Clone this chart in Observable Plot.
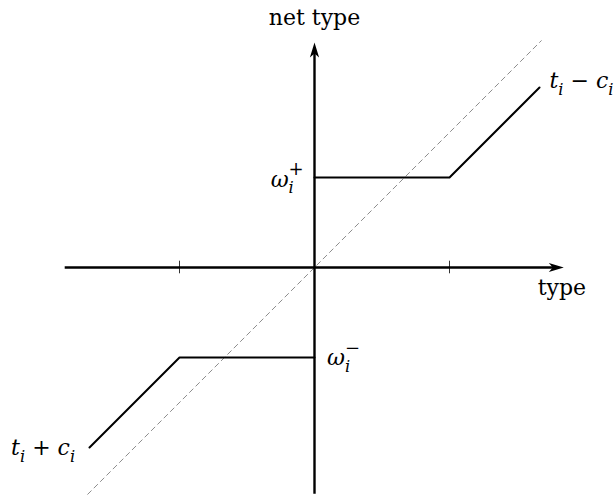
<!DOCTYPE html>
<html>
<head>
<meta charset="utf-8">
<script src="https://cdn.jsdelivr.net/npm/d3@7"></script>
<script src="https://cdn.jsdelivr.net/npm/@observablehq/plot@0.6"></script>
<style>
  html, body { margin: 0; padding: 0; background: #fff; }
  #chart svg text { white-space: pre; }
</style>
</head>
<body>
<div id="chart"></div>
<script>
// ---------- data (in "type" units; ticks at ±1.5, ω± = ±1) ----------
const typeTicks = [-1.5, 1.5];
const upperType = [0, 1.5, 2.5];
const upperNet  = [1, 1, 2];
const lowerType = [-2.5, -1.5, 0];
const lowerNet  = [-2, -1, -1];
const diagonalEnds = [-2.52, 2.52];
const xAxisEnds = [-2.77, 2.77];
const yAxisEnds = [-2.52, 2.5];
const labelTexts = ["net type", "type", "t_i − c_i", "t_i + c_i", "ω_i^+", "ω_i^−"];
const labelX = [0, 2.48, 2.61, -2.66, -0.12, 0.14];
const labelY = [2.70, -0.31, 1.99, -2.085, 0.90, -1.086];

// ---------- layout ----------
const W = 616, H = 497;
const unit = 90;              // px per unit
const originPx = [314, 267];  // pixel position of (0,0)
const fs = 22;
const fontFamily = "'DejaVu Serif', serif";
const anchors = ["middle", "start", "start", "end", "end", "start"];
const headBack = 10 / unit;   // axis line stops inside arrowhead

const upper = upperType.map((x, i) => ({x, y: upperNet[i]}));
const lower = lowerType.map((x, i) => ({x, y: lowerNet[i]}));
const diagonal = diagonalEnds.map(v => ({x: v, y: v}));
const labels = labelTexts.map((t, i) => ({t, x: labelX[i], y: labelY[i], a: anchors[i]}));
const heads = [
  {x: xAxisEnds[1], y: 0, r: 90},
  {x: 0, y: yAxisEnds[1], r: 0}
];

// stealth arrowhead, tip at origin, pointing up
const stealth = {
  draw(ctx) {
    ctx.moveTo(0, 0);
    ctx.lineTo(4.6, 15);
    ctx.lineTo(0, 11);
    ctx.lineTo(-4.6, 15);
    ctx.closePath();
  }
};

const anchorGroups = ["start", "middle", "end"];

const chart = Plot.plot({
  width: W,
  height: H,
  margin: 0,
  style: {background: "#fff", fontFamily, fontSize: fs + "px"},
  x: {domain: [-originPx[0] / unit, (W - originPx[0]) / unit], axis: null},
  y: {domain: [(originPx[1] - H) / unit, originPx[1] / unit], axis: null},
  marks: [
    Plot.line(diagonal, {x: "x", y: "y", stroke: "#808080", strokeWidth: 0.9, strokeDasharray: "5,4"}),
    Plot.ruleY([0], {x1: xAxisEnds[0], x2: xAxisEnds[1] - headBack, stroke: "#000", strokeWidth: 2.4}),
    Plot.ruleX([0], {y1: yAxisEnds[0], y2: yAxisEnds[1] - headBack, stroke: "#000", strokeWidth: 2.4}),
    Plot.ruleX(typeTicks, {y1: -0.07, y2: 0.07, stroke: "#000", strokeWidth: 0.8}),
    Plot.line(upper, {x: "x", y: "y", stroke: "#000", strokeWidth: 2}),
    Plot.line(lower, {x: "x", y: "y", stroke: "#000", strokeWidth: 2}),
    Plot.dot(heads, {x: "x", y: "y", rotate: "r", symbol: stealth, fill: "#000", stroke: null}),
    ...anchorGroups.map(a =>
      Plot.text(labels.filter(d => d.a === a), {
        x: "x", y: "y", text: "t", textAnchor: a, lineAnchor: "bottom",
        fill: "#000", fontSize: fs, fontFamily
      })
    )
  ]
});

document.getElementById("chart").appendChild(chart);

// typeset simple math: letters italic, _x subscript, ^x superscript (stacked after a subscript)
const NS = "http://www.w3.org/2000/svg";
function mathify(textEl) {
  const src = textEl.textContent;
  if (!/[_^]/.test(src)) return;
  textEl.textContent = "";
  let cur = 0;
  let lastSub = null;
  let k = 0;
  while (k < src.length) {
    let ch = src[k];
    let kind = "base";
    if (ch === "_" || ch === "^") {
      kind = ch === "_" ? "sub" : "sup";
      ch = src[k + 1];
      k += 2;
    } else {
      k += 1;
    }
    const ts = document.createElementNS(NS, "tspan");
    ts.textContent = ch;
    if (/[a-zA-Zα-ω]/.test(ch)) ts.setAttribute("font-style", "italic");
    let target = 0;
    if (kind === "sub") target = 0.3 * fs;
    if (kind === "sup") target = -0.52 * fs;
    if (kind === "sub") ts.setAttribute("font-size", (0.74 * fs).toFixed(2));
    if (kind === "sup") ts.setAttribute("font-size", (0.82 * fs).toFixed(2));
    if (target - cur !== 0) ts.setAttribute("dy", (target - cur).toFixed(2));
    cur = target;
    if (kind === "sup" && lastSub) {
      ts.setAttribute("dx", (-lastSub.getComputedTextLength()).toFixed(2));
    }
    textEl.appendChild(ts);
    lastSub = kind === "sub" ? ts : null;
  }
}
chart.querySelectorAll("text").forEach(mathify);
</script>
</body>
</html>
